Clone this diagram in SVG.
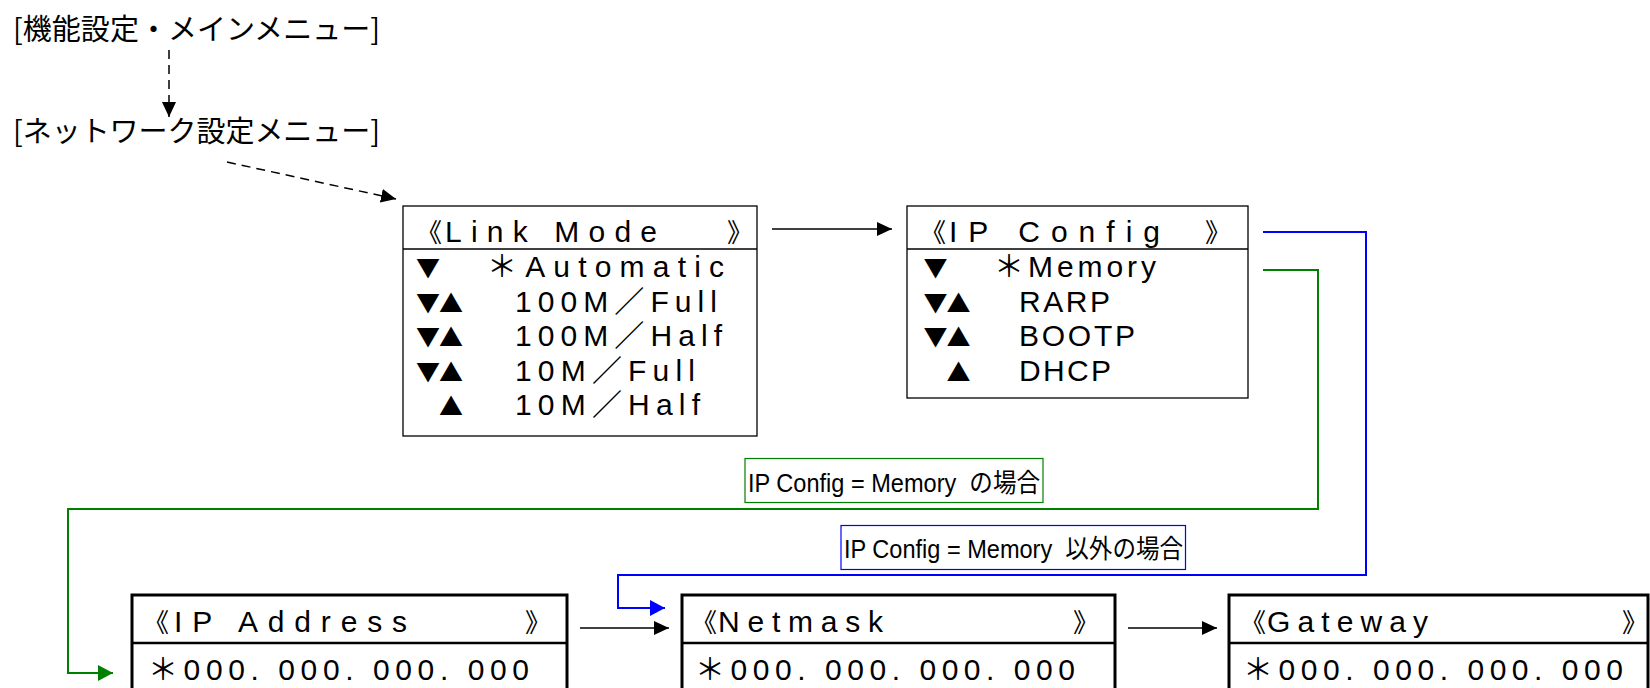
<svg xmlns="http://www.w3.org/2000/svg" width="1650" height="688" viewBox="0 0 1650 688">
<defs>
<style>
.t{font-family:"Noto Sans CJK JP","Noto Sans",sans-serif;font-size:29px;fill:#000}
.m{font-family:"Liberation Sans","Noto Sans CJK JP",sans-serif;font-size:30px;fill:#000}
.br{font-family:"Noto Sans CJK JP",sans-serif;font-size:26px;fill:#000}
.tri{font-family:"Noto Sans CJK JP",sans-serif;font-size:24px;text-anchor:middle;fill:#000}
.lb{font-family:"Liberation Sans","Noto Sans CJK JP",sans-serif;font-size:26px;fill:#000}
.box{fill:#fff;stroke:#000;stroke-width:1.3}
.boxb{fill:#fff;stroke:#000;stroke-width:3}
.div{stroke:#000;stroke-width:1.3}
.divb{stroke:#000;stroke-width:2.5}
.k{fill:none;stroke:#000;stroke-width:1.5}
.d{fill:none;stroke:#000;stroke-width:1.5;stroke-dasharray:9 6}
.g{fill:none;stroke:#008000;stroke-width:2}
.b{fill:none;stroke:#0000ff;stroke-width:2}
.lg{fill:#fff;stroke:#008000;stroke-width:1.2}
.lbx{fill:#fff;stroke:#0000ff;stroke-width:1.2}
</style>
<marker id="ak" markerUnits="userSpaceOnUse" markerWidth="16" markerHeight="14" refX="15" refY="7" orient="auto"><path d="M0,0 L15,7 L0,14 z" fill="#000"/></marker>
<marker id="ag" markerUnits="userSpaceOnUse" markerWidth="16" markerHeight="16" refX="15" refY="8" orient="auto"><path d="M0,0 L15,8 L0,16 z" fill="#008000"/></marker>
<marker id="ab" markerUnits="userSpaceOnUse" markerWidth="16" markerHeight="16" refX="15" refY="8" orient="auto"><path d="M0,0 L15,8 L0,16 z" fill="#0000ff"/></marker>
</defs>
<rect width="1650" height="688" fill="#fff"/>

<g id="connectors">
<path class="d" d="M169,50 V117" marker-end="url(#ak)"/>
<path class="d" d="M227,162 L396,199" marker-end="url(#ak)"/>
<path class="k" d="M772,229 H892" marker-end="url(#ak)"/>
<path class="g" d="M1263,270 H1318 V509 H68 V673 H113" marker-end="url(#ag)"/>
<path class="b" d="M1263,232 H1366 V575 H618 V608 H665" marker-end="url(#ab)"/>
<path class="k" d="M580,628 H669" marker-end="url(#ak)"/>
<path class="k" d="M1128,628 H1217" marker-end="url(#ak)"/>
</g>

<g id="title-main">
<text class="t" x="13" y="40" textLength="367" lengthAdjust="spacing">[機能設定・メインメニュー]</text>
</g>
<g id="title-network">
<text class="t" x="13" y="142" textLength="367" lengthAdjust="spacing">[ネットワーク設定メニュー]</text>
</g>

<g id="link-mode">
<rect class="box" x="403" y="206" width="354" height="230"/>
<line class="div" x1="403" y1="249" x2="757" y2="249"/>
<text class="br" x="416" y="242">《</text>
<text class="m" x="445" y="242" textLength="212" lengthAdjust="spacing">Link Mode</text>
<text class="br" x="727" y="242">》</text>
<text class="tri" x="428" y="277">▼</text>
<text class="m" x="487" y="277" textLength="237" lengthAdjust="spacing">＊Automatic</text>
<text class="tri" x="428" y="311.5">▼</text><text class="tri" x="451" y="311.5">▲</text>
<text class="m" x="515" y="311.5" textLength="202" lengthAdjust="spacing">100M／Full</text>
<text class="tri" x="428" y="346">▼</text><text class="tri" x="451" y="346">▲</text>
<text class="m" x="515" y="346" textLength="207" lengthAdjust="spacing">100M／Half</text>
<text class="tri" x="428" y="380.5">▼</text><text class="tri" x="451" y="380.5">▲</text>
<text class="m" x="515" y="380.5" textLength="180" lengthAdjust="spacing">10M／Full</text>
<text class="tri" x="451" y="415">▲</text>
<text class="m" x="515" y="415" textLength="185" lengthAdjust="spacing">10M／Half</text>
</g>

<g id="ip-config">
<rect class="box" x="907" y="206" width="341" height="192"/>
<line class="div" x1="907" y1="249" x2="1248" y2="249"/>
<text class="br" x="920" y="242">《</text>
<text class="m" x="949" y="242" textLength="211" lengthAdjust="spacing">IP Config</text>
<text class="br" x="1205" y="242">》</text>
<text class="tri" x="935.5" y="277">▼</text>
<text class="m" x="994" y="277" textLength="162" lengthAdjust="spacing">＊Memory</text>
<text class="tri" x="935.5" y="311.5">▼</text><text class="tri" x="958.5" y="311.5">▲</text>
<text class="m" x="1019" y="311.5" textLength="91" lengthAdjust="spacing">RARP</text>
<text class="tri" x="935.5" y="346">▼</text><text class="tri" x="958.5" y="346">▲</text>
<text class="m" x="1019" y="346" textLength="116" lengthAdjust="spacing">BOOTP</text>
<text class="tri" x="958.5" y="380.5">▲</text>
<text class="m" x="1019" y="380.5" textLength="92" lengthAdjust="spacing">DHCP</text>
</g>

<g id="label-memory">
<rect class="lg" x="745" y="458.5" width="298" height="44"/>
<text class="lb" x="748" y="492" textLength="292" lengthAdjust="spacingAndGlyphs" xml:space="preserve">IP Config = Memory  の場合</text>
</g>
<g id="label-not-memory">
<rect class="lbx" x="841" y="525.5" width="344.5" height="44"/>
<text class="lb" x="844" y="558" textLength="339" lengthAdjust="spacingAndGlyphs" xml:space="preserve">IP Config = Memory  以外の場合</text>
</g>

<g id="ip-address">
<rect class="boxb" x="132" y="595" width="435" height="130"/>
<line class="divb" x1="132" y1="643" x2="567" y2="643"/>
<text class="br" x="143" y="632">《</text>
<text class="m" x="174" y="632" textLength="233" lengthAdjust="spacing">IP Address</text>
<text class="br" x="525" y="632">》</text>
<text class="m" x="148" y="680" textLength="381" lengthAdjust="spacing">＊000. 000. 000. 000</text>
</g>

<g id="netmask">
<rect class="boxb" x="682" y="595" width="433" height="130"/>
<line class="divb" x1="682" y1="643" x2="1115" y2="643"/>
<text class="br" x="691" y="632">《</text>
<text class="m" x="718" y="632" textLength="165" lengthAdjust="spacing">Netmask</text>
<text class="br" x="1073" y="632">》</text>
<text class="m" x="695" y="680" textLength="380" lengthAdjust="spacing">＊000. 000. 000. 000</text>
</g>

<g id="gateway">
<rect class="boxb" x="1229" y="595" width="419" height="130"/>
<line class="divb" x1="1229" y1="643" x2="1648" y2="643"/>
<text class="br" x="1240" y="632">《</text>
<text class="m" x="1267" y="632" textLength="161" lengthAdjust="spacing">Gateway</text>
<text class="br" x="1622" y="632">》</text>
<text class="m" x="1243" y="680" textLength="380" lengthAdjust="spacing">＊000. 000. 000. 000</text>
</g>
</svg>
